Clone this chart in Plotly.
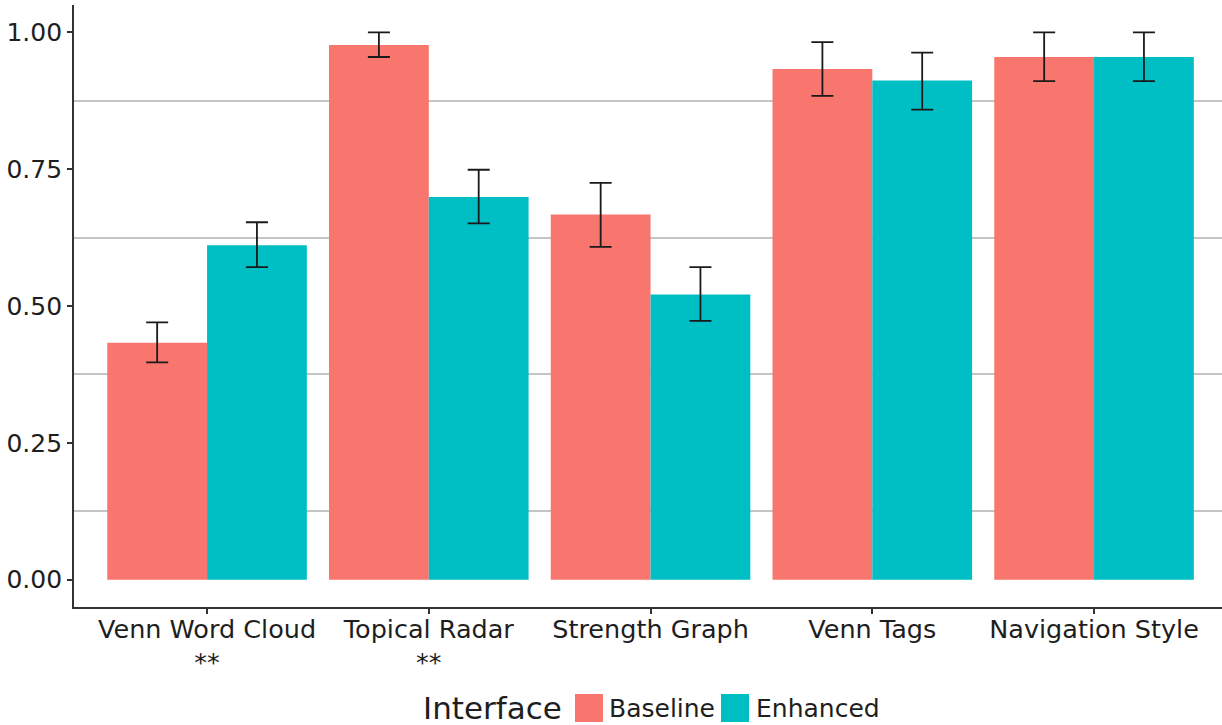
import plotly.graph_objects as go

# Accuracy per interface, mean with confidence bounds
categories = ["Venn Word Cloud", "Topical Radar", "Strength Graph", "Venn Tags", "Navigation Style"]
significance = ["**", "**", "", "", ""]

baseline = [0.433, 0.977, 0.667, 0.933, 0.955]
baseline_hi = [0.470, 1.000, 0.725, 0.982, 1.000]
baseline_lo = [0.397, 0.955, 0.608, 0.884, 0.911]

enhanced = [0.611, 0.699, 0.521, 0.912, 0.955]
enhanced_hi = [0.653, 0.749, 0.571, 0.963, 1.000]
enhanced_lo = [0.571, 0.651, 0.473, 0.859, 0.911]

y_ticks = [0.0, 0.25, 0.5, 0.75, 1.0]

BASE_COLOR = "#F8766D"
ENH_COLOR = "#00BFC4"
TEXT = "#1e1e1e"
FONT = "DejaVu Sans"

W, H = 1222, 725
M_L, M_R, M_T, M_B = 74, 0, 5, 118


def err(vals, hi, lo):
    return dict(
        type="data",
        array=[h - v for v, h in zip(vals, hi)],
        arrayminus=[v - l for v, l in zip(vals, lo)],
        color="#1a1a1a",
        thickness=1.8,
        width=11,
    )


fig = go.Figure()
fig.add_trace(go.Bar(
    x=categories, y=baseline, name="Baseline",
    marker=dict(color=BASE_COLOR, line=dict(width=0)),
    error_y=err(baseline, baseline_hi, baseline_lo),
    showlegend=False,
))
fig.add_trace(go.Bar(
    x=categories, y=enhanced, name="Enhanced",
    marker=dict(color=ENH_COLOR, line=dict(width=0)),
    error_y=err(enhanced, enhanced_hi, enhanced_lo),
    showlegend=False,
))

tick_text = [c + ("<br>" + s if s else "") for c, s in zip(categories, significance)]

fig.update_layout(
    width=W, height=H,
    margin=dict(l=M_L, r=M_R, t=M_T, b=M_B, pad=0),
    paper_bgcolor="white", plot_bgcolor="white",
    font=dict(family=FONT, color=TEXT, size=25),
    barmode="group", bargap=0.1, bargroupgap=0,
)

fig.update_xaxes(
    type="category", range=[-0.6, 4.577],
    tickvals=categories, ticktext=tick_text,
    showline=True, linecolor="#333333", linewidth=1.8,
    ticks="outside", ticklen=5, tickwidth=1.5, tickcolor="#333333",
    ticklabelstandoff=-7,
    showgrid=False, zeroline=False,
    tickfont=dict(size=25.5, color=TEXT, family=FONT),
)

fig.update_yaxes(
    range=[-0.05, 1.05],
    tickvals=y_ticks, ticktext=[f"{v:.2f}" for v in y_ticks],
    showline=True, linecolor="#333333", linewidth=1.8,
    ticks="outside", ticklen=5, tickwidth=1.5, tickcolor="#333333",
    showgrid=False, zeroline=False,
    minor=dict(tick0=0.125, dtick=0.25, showgrid=True,
               gridcolor="#c4c4c4", gridwidth=1.5, ticks=""),
    tickfont=dict(size=25, color=TEXT, family=FONT),
)


# Legend drawn by hand: pixel positions converted to paper coordinates
def px_x(px):
    return (px - M_L) / (W - M_L - M_R)


def px_y(py):
    return (H - M_B - py) / (H - M_T - M_B)


legend_mid = 708
fig.add_annotation(
    x=px_x(421), y=px_y(legend_mid), xref="paper", yref="paper",
    text="Interface", showarrow=False, xanchor="left", yanchor="middle",
    font=dict(size=31, color=TEXT, family=FONT),
)
for label, color, sx, tx in [("Baseline", BASE_COLOR, 575, 607),
                              ("Enhanced", ENH_COLOR, 721, 754)]:
    fig.add_shape(
        type="rect", xref="paper", yref="paper",
        x0=px_x(sx), x1=px_x(sx + 28), y0=px_y(legend_mid + 14), y1=px_y(legend_mid - 14),
        fillcolor=color, line=dict(width=0),
    )
    fig.add_annotation(
        x=px_x(tx), y=px_y(legend_mid), xref="paper", yref="paper",
        text=label, showarrow=False, xanchor="left", yanchor="middle",
        font=dict(size=25, color=TEXT, family=FONT),
    )

fig.write_html("out.html")
